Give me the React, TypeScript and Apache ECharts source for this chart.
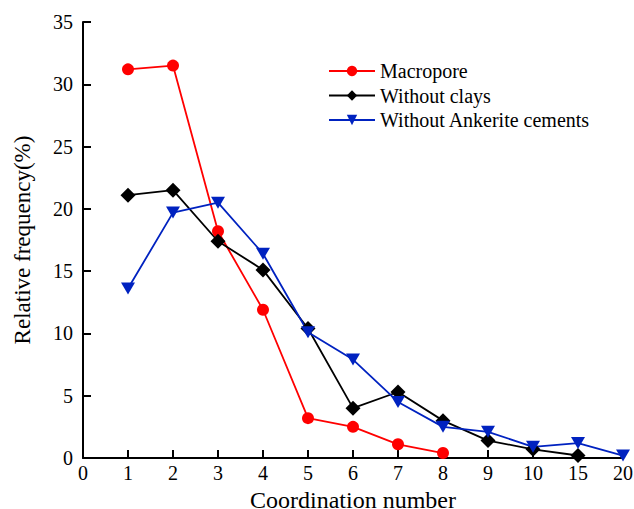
import React, { useEffect, useRef } from "react";
import * as echarts from "echarts";

const categories = ["0", "1", "2", "3", "4", "5", "6", "7", "8", "9", "10", "15", "20"];
const macropore = [null, 31.2, 31.5, 18.2, 11.9, 3.2, 2.5, 1.1, 0.4, null, null, null, null];
const withoutClays = [null, 21.1, 21.5, 17.4, 15.1, 10.4, 4.0, 5.3, 3.0, 1.4, 0.7, 0.2, null];
const withoutAnkerite = [null, 13.6, 19.7, 20.5, 16.4, 10.1, 7.9, 4.5, 2.5, 2.1, 0.9, 1.2, 0.2];
const yTicks = { min: 0, max: 35, interval: 5 };

const FONT = "Liberation Serif";

export default function App() {
  const ref = useRef<HTMLDivElement>(null);
  useEffect(() => {
    const chart = echarts.init(ref.current!, null, { renderer: "svg" });
    const axisCommon = {
      axisLine: { show: true, lineStyle: { color: "#000", width: 2 } },
      axisTick: { show: true, inside: true, length: 8, lineStyle: { color: "#000", width: 2 } },
      axisLabel: { color: "#000", fontFamily: FONT, fontSize: 20 },
      splitLine: { show: false },
    };
    chart.setOption({
      animation: false,
      backgroundColor: "#fff",
      grid: { left: 83, right: 11, top: 22, bottom: 51, outerBoundsMode: "none", containLabel: false },
      legend: {
        left: 323,
        top: 56,
        orient: "vertical",
        itemWidth: 46,
        itemHeight: 13,
        itemGap: 4.5,
        textStyle: { fontFamily: FONT, fontSize: 20, lineHeight: 20, color: "#000" },
        data: ["Macropore", "Without clays", "Without Ankerite cements"],
      },
      xAxis: {
        type: "category",
        data: categories,
        boundaryGap: false,
        ...axisCommon,
        axisLabel: { ...axisCommon.axisLabel, margin: 5 },
        name: "Coordination number",
        nameLocation: "middle",
        nameGap: 23,
        nameTextStyle: { fontFamily: FONT, fontSize: 24, lineHeight: 24, color: "#000" },
      },
      yAxis: {
        type: "value",
        ...yTicks,
        ...axisCommon,
        axisLabel: { ...axisCommon.axisLabel, margin: 10 },
        name: "Relative frequency(%)",
        nameLocation: "middle",
        nameGap: 49,
        nameTextStyle: { fontFamily: FONT, fontSize: 23, color: "#000" },
      },
      series: [
        {
          name: "Macropore",
          type: "line",
          data: macropore,
          symbol: "circle",
          symbolSize: 12,
          itemStyle: { color: "#ff0000" },
          lineStyle: { color: "#ff0000", width: 1.8 },
        },
        {
          name: "Without clays",
          type: "line",
          data: withoutClays,
          symbol: "diamond",
          symbolSize: 15,
          itemStyle: { color: "#000" },
          lineStyle: { color: "#000", width: 1.8 },
        },
        {
          name: "Without Ankerite cements",
          type: "line",
          data: withoutAnkerite,
          symbol: "triangle",
          symbolRotate: 180,
          symbolSize: [14, 12],
          itemStyle: { color: "#0022c0" },
          lineStyle: { color: "#0022c0", width: 1.8 },
        },
      ],
    });
    return () => chart.dispose();
  }, []);
  return <div ref={ref} style={{ width: 634, height: 509, position: "absolute", left: 0, top: 0 }} />;
}
